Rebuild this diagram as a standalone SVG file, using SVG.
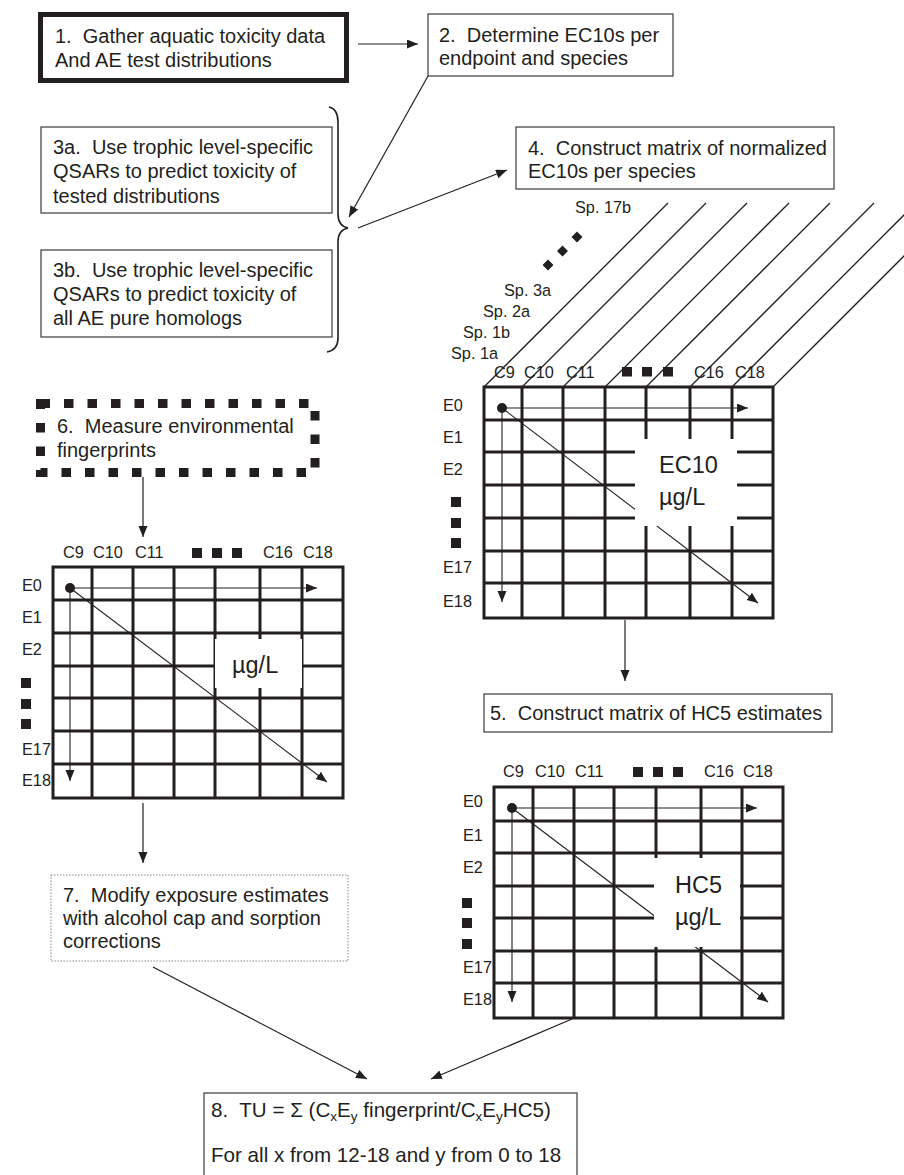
<svg xmlns="http://www.w3.org/2000/svg" width="904" height="1175" viewBox="0 0 904 1175">
<defs>
<style>
text{font-family:"Liberation Sans",Arial,sans-serif;fill:#231f20}
.bt{font-size:20px}
.b8{font-size:20.6px}
.sm{font-size:16.3px}
.big{font-size:23.5px}
.box{fill:#fff;stroke:#3a3a3a;stroke-width:1.2}
.grid{stroke:#231f20;stroke-width:3;fill:none}
.thin{stroke:#231f20;stroke-width:1.1;fill:none}
.con{stroke:#231f20;stroke-width:1.2;fill:none}
.sq{fill:#231f20}
</style>
<marker id="ah" markerUnits="userSpaceOnUse" markerWidth="12" markerHeight="10" refX="11" refY="4.5" orient="auto">
<path d="M0,0 L11,4.5 L0,9 z" fill="#231f20"/>
</marker>
</defs>
<rect width="904" height="1175" fill="#fff"/>

<g id="n1">
<rect x="40.5" y="14.5" width="306" height="66" fill="#fff" stroke="#231f20" stroke-width="5"/>
<text class="bt" x="55" y="43">1.&#160; Gather aquatic toxicity data</text>
<text class="bt" x="55" y="67">And AE test distributions</text>
</g>

<g id="n2">
<rect class="box" x="428" y="14" width="245" height="62"/>
<text class="bt" x="439" y="42">2.&#160; Determine EC10s per</text>
<text class="bt" x="439" y="65">endpoint and species</text>
</g>

<g id="n3a">
<rect class="box" x="41" y="127" width="291" height="86"/>
<text class="bt" x="53" y="154">3a.&#160; Use trophic level-specific</text>
<text class="bt" x="53" y="178">QSARs to predict toxicity of</text>
<text class="bt" x="53" y="203">tested distributions</text>
</g>

<g id="n3b">
<rect class="box" x="41" y="250" width="291" height="87"/>
<text class="bt" x="53" y="277">3b.&#160; Use trophic level-specific</text>
<text class="bt" x="53" y="301">QSARs to predict toxicity of</text>
<text class="bt" x="53" y="325">all AE pure homologs</text>
</g>

<g id="brace">
<path d="M329 107 Q338 109 338 122 L338 214 Q338 226 348 228 Q338 230 338 242 L338 338 Q338 350 327 352" fill="none" stroke="#231f20" stroke-width="1.6"/>
</g>

<g id="n4">
<rect class="box" x="516" y="127" width="318" height="62"/>
<text class="bt" x="528" y="155">4.&#160; Construct matrix of normalized</text>
<text class="bt" x="528" y="178">EC10s per species</text>
</g>

<g id="species">
<g stroke="#231f20" stroke-width="1.3">
<line x1="484" y1="387" x2="668" y2="203"/>
<line x1="522" y1="387" x2="706" y2="203"/>
<line x1="563" y1="387" x2="747" y2="203"/>
<line x1="605" y1="387" x2="789" y2="203"/>
<line x1="646" y1="387" x2="830" y2="203"/>
<line x1="690" y1="387" x2="874" y2="203"/>
<line x1="732" y1="387" x2="916" y2="203"/>
<line x1="773" y1="387" x2="957" y2="203"/>
</g>
<text class="sm" x="575" y="213">Sp. 17b</text>
<text class="sm" x="504" y="296">Sp. 3a</text>
<text class="sm" x="483" y="317">Sp. 2a</text>
<text class="sm" x="463" y="338">Sp. 1b</text>
<text class="sm" x="451" y="359">Sp. 1a</text>
<path class="sq" d="M548 259.5 L553.5 265 L548 270.5 L542.5 265 z M562.5 245.5 L568 251 L562.5 256.5 L557 251 z M577 231.5 L582.5 237 L577 242.5 L571.5 237 z"/>
</g>

<g id="matrixEC10">
<text class="sm" x="494" y="378">C9</text>
<text class="sm" x="524" y="378">C10</text>
<text class="sm" x="566" y="378">C11</text>
<rect class="sq" x="622" y="367" width="10" height="9.5"/>
<rect class="sq" x="642" y="367" width="10" height="9.5"/>
<rect class="sq" x="663" y="367" width="10" height="9.5"/>
<text class="sm" x="694" y="378">C16</text>
<text class="sm" x="735" y="378">C18</text>
<path class="grid" d="M484 387H773V618H484Z M522 387V618 M563 387V618 M605 387V618 M646 387V618 M690 387V618 M732 387V618 M484 420H773 M484 452H773 M484 485H773 M484 518H773 M484 551H773 M484 583H773"/>
<text class="sm" x="443" y="411">E0</text>
<text class="sm" x="443" y="443">E1</text>
<text class="sm" x="443" y="475">E2</text>
<rect class="sq" x="451" y="497" width="10" height="10"/>
<rect class="sq" x="451" y="518" width="10" height="10"/>
<rect class="sq" x="451" y="538" width="10" height="10"/>
<text class="sm" x="443" y="573">E17</text>
<text class="sm" x="443" y="607">E18</text>
<circle cx="502" cy="408" r="5" fill="#231f20"/>
<line class="thin" x1="502" y1="408" x2="748" y2="408" marker-end="url(#ah)"/>
<line class="thin" x1="502" y1="408" x2="502" y2="602" marker-end="url(#ah)"/>
<line class="thin" x1="502" y1="408" x2="758" y2="603" marker-end="url(#ah)"/>
<rect x="635" y="439" width="102" height="87" fill="#fff"/>
<text class="big" x="659" y="473">EC10</text>
<text class="big" x="659" y="505">µg/L</text>
</g>

<g id="n5">
<rect class="box" x="484" y="694" width="348" height="38"/>
<text class="bt" x="490" y="720">5.&#160; Construct matrix of HC5 estimates</text>
</g>

<g id="matrixHC5">
<text class="sm" x="503" y="777">C9</text>
<text class="sm" x="535" y="777">C10</text>
<text class="sm" x="575" y="777">C11</text>
<rect class="sq" x="633" y="767" width="10" height="10"/>
<rect class="sq" x="653" y="767" width="10" height="10"/>
<rect class="sq" x="673" y="767" width="10" height="10"/>
<text class="sm" x="704" y="777">C16</text>
<text class="sm" x="743" y="777">C18</text>
<path class="grid" d="M494 787H783V1018H494Z M533 787V1018 M574 787V1018 M614 787V1018 M656 787V1018 M701 787V1018 M742 787V1018 M494 821H783 M494 853H783 M494 886H783 M494 918H783 M494 951H783 M494 983H783"/>
<text class="sm" x="463" y="807">E0</text>
<text class="sm" x="463" y="841">E1</text>
<text class="sm" x="463" y="873">E2</text>
<rect class="sq" x="462" y="898" width="10" height="10"/>
<rect class="sq" x="462" y="918" width="10" height="10"/>
<rect class="sq" x="462" y="939" width="10" height="10"/>
<text class="sm" x="463" y="973">E17</text>
<text class="sm" x="463" y="1005">E18</text>
<circle cx="512" cy="808" r="5" fill="#231f20"/>
<line class="thin" x1="512" y1="808" x2="757" y2="808" marker-end="url(#ah)"/>
<line class="thin" x1="512" y1="808" x2="512" y2="1002" marker-end="url(#ah)"/>
<line class="thin" x1="512" y1="808" x2="768" y2="1002" marker-end="url(#ah)"/>
<rect x="654" y="858" width="86" height="89" fill="#fff"/>
<text class="big" x="675" y="893">HC5</text>
<text class="big" x="675" y="925">µg/L</text>
</g>

<g id="n6">
<rect x="40.5" y="403.5" width="274.5" height="69" fill="none" stroke="#231f20" stroke-width="9" stroke-dasharray="9.5 14"/>
<text class="bt" x="57" y="433">6.&#160; Measure environmental</text>
<text class="bt" x="57" y="457">fingerprints</text>
</g>

<g id="matrixFP">
<text class="sm" x="63" y="558">C9</text>
<text class="sm" x="93" y="558">C10</text>
<text class="sm" x="135" y="558">C11</text>
<rect class="sq" x="192" y="548" width="10" height="10"/>
<rect class="sq" x="212" y="548" width="10" height="10"/>
<rect class="sq" x="232" y="548" width="10" height="10"/>
<text class="sm" x="263" y="558">C16</text>
<text class="sm" x="303" y="558">C18</text>
<path class="grid" d="M53 567H343V798H53Z M92 567V798 M133 567V798 M174 567V798 M215 567V798 M260 567V798 M302 567V798 M53 600H343 M53 633H343 M53 666H343 M53 698H343 M53 731H343 M53 764H343"/>
<text class="sm" x="22" y="591">E0</text>
<text class="sm" x="22" y="623">E1</text>
<text class="sm" x="22" y="655">E2</text>
<rect class="sq" x="21" y="678" width="10" height="10"/>
<rect class="sq" x="21" y="699" width="10" height="10"/>
<rect class="sq" x="21" y="719" width="10" height="10"/>
<text class="sm" x="22" y="755">E17</text>
<text class="sm" x="22" y="786">E18</text>
<circle cx="70" cy="588" r="5" fill="#231f20"/>
<line class="thin" x1="70" y1="588" x2="317" y2="588" marker-end="url(#ah)"/>
<line class="thin" x1="70" y1="588" x2="70" y2="781" marker-end="url(#ah)"/>
<line class="thin" x1="70" y1="588" x2="327" y2="782" marker-end="url(#ah)"/>
<rect x="215" y="639" width="87" height="49" fill="#fff"/>
<text class="big" x="232" y="673">µg/L</text>
</g>

<g id="n7">
<rect x="51" y="875" width="297" height="86" fill="#fff" stroke="#8a8a8a" stroke-width="1" stroke-dasharray="1.5 1.5"/>
<text class="bt" x="63" y="902">7.&#160; Modify exposure estimates</text>
<text class="bt" x="63" y="925">with alcohol cap and sorption</text>
<text class="bt" x="63" y="948">corrections</text>
</g>

<g id="n8">
<rect class="box" x="204" y="1093" width="373" height="90"/>
<text class="b8" x="211" y="1117">8.&#160; TU = Σ (C<tspan dy="4" font-size="13.5">x</tspan><tspan dy="-4">E</tspan><tspan dy="4" font-size="13.5">y</tspan><tspan dy="-4"> fingerprint/C</tspan><tspan dy="4" font-size="13.5">x</tspan><tspan dy="-4">E</tspan><tspan dy="4" font-size="13.5">y</tspan><tspan dy="-4">HC5)</tspan></text>
<text class="b8" x="211" y="1162">For all x from 12-18 and y from 0 to 18</text>
</g>

<g id="connectors">
<line class="con" x1="358" y1="44" x2="418" y2="44" marker-end="url(#ah)"/>
<line class="con" x1="428" y1="76" x2="349" y2="217" marker-end="url(#ah)"/>
<line class="con" x1="358" y1="228" x2="507" y2="170" marker-end="url(#ah)"/>
<line class="con" x1="625" y1="620" x2="625" y2="681" marker-end="url(#ah)"/>
<line class="con" x1="143" y1="477" x2="143" y2="537" marker-end="url(#ah)"/>
<line class="con" x1="143" y1="803" x2="143" y2="863" marker-end="url(#ah)"/>
<line class="con" x1="153" y1="967" x2="367" y2="1079" marker-end="url(#ah)"/>
<line class="con" x1="572" y1="1019" x2="431" y2="1079" marker-end="url(#ah)"/>
</g>
</svg>
